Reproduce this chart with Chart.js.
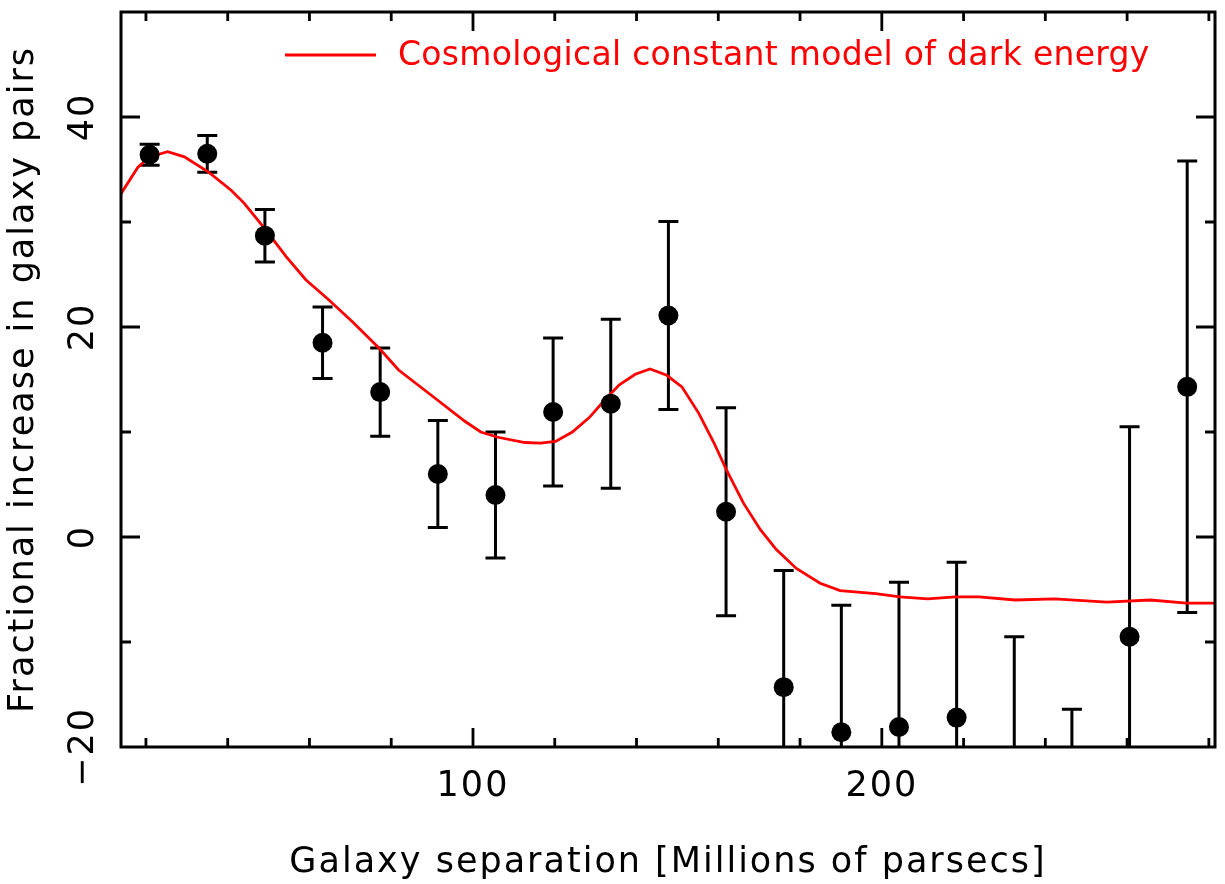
<!DOCTYPE html>
<html>
<head>
<meta charset="utf-8">
<script src="https://cdn.jsdelivr.net/npm/chart.js@4.4.1/dist/chart.umd.min.js"></script>
<style>
html, body { margin: 0; padding: 0; background: #fff; }
</style>
</head>
<body>
<canvas id="pairChart" width="1225" height="884"></canvas>
<script>
// measured points: separation, fractional increase, 1-sigma error
const sepValues = [20.9, 35.0, 49.1, 63.2, 77.3, 91.4, 105.5, 119.6, 133.7, 147.8,
    161.9, 176.0, 190.1, 204.2, 218.3, 232.4, 246.5, 260.6, 274.7];
const pairValues = [36.4, 36.5, 28.7, 18.5, 13.8, 6.0, 4.0, 11.9, 12.7, 21.1,
    2.4, -14.3, -18.6, -18.1, -17.2, -25.6, -33.9, -9.5, 14.3];
const pairErrors = [1.0, 1.75, 2.5, 3.4, 4.2, 5.1, 6.0, 7.05, 8.05, 8.95,
    9.9, 11.1, 12.1, 13.8, 14.8, 16.1, 17.5, 20.0, 21.5];

// cosmological constant model curve
const modelSep = [13.9, 18.0, 20.9, 25.3, 29.4, 35.5, 40.9, 44.0, 49.4, 54.3,
    59.1, 64.7, 70.5, 77.0, 81.8, 89.8, 98.1, 101.9, 106.1, 112.7,
    116.5, 120.2, 124.3, 128.5, 132.1, 135.8, 139.7, 143.3, 147.4, 151.1,
    155.2, 158.9, 162.0, 166.2, 170.3, 174.2, 179.1, 184.9, 189.8, 198.5,
    204.4, 211.2, 218.0, 223.8, 232.6, 242.3, 255.0, 265.7, 274.5, 281.5];
const modelValues = [32.7, 35.2, 36.2, 36.7, 36.2, 34.7, 33.0, 31.8, 29.2, 26.7,
    24.5, 22.6, 20.5, 18.0, 15.9, 13.5, 11.0, 10.0, 9.5, 9.0,
    8.95, 9.1, 10.0, 11.4, 13.0, 14.5, 15.5, 16.0, 15.4, 14.3,
    11.8, 9.0, 6.4, 3.2, 0.7, -1.2, -3.0, -4.4, -5.1, -5.4,
    -5.7, -5.9, -5.7, -5.7, -6.0, -5.9, -6.2, -6.0, -6.3, -6.3];

const legendLabel = 'Cosmological constant model of dark energy';

Chart.defaults.font.family = '"DejaVu Sans", sans-serif';
Chart.defaults.font.size = 35;
Chart.defaults.color = '#000';

const framePlugin = {
    id: 'framePlugin',
    beforeLayout(chart) {
        chart.ctx.letterSpacing = '2px';
    },
    beforeDraw(chart) {
        chart.ctx.letterSpacing = '2px';
    },
    beforeDatasetsDraw(chart) {
        const { ctx, chartArea: a, scales: { x, y } } = chart;
        ctx.save();
        ctx.beginPath();
        ctx.rect(a.left, a.top, a.right - a.left, a.bottom - a.top);
        ctx.clip();
        ctx.strokeStyle = '#000';
        ctx.lineWidth = 3;
        sepValues.forEach((s, i) => {
            const px = x.getPixelForValue(s);
            const top = y.getPixelForValue(pairValues[i] + pairErrors[i]);
            const bot = y.getPixelForValue(pairValues[i] - pairErrors[i]);
            ctx.beginPath();
            ctx.moveTo(px, top); ctx.lineTo(px, bot);
            ctx.moveTo(px - 10, top); ctx.lineTo(px + 10, top);
            ctx.moveTo(px - 10, bot); ctx.lineTo(px + 10, bot);
            ctx.stroke();
        });
        ctx.restore();
    },
    afterDraw(chart) {
        const { ctx, chartArea: a, scales: { x, y } } = chart;
        ctx.save();
        ctx.strokeStyle = '#000';
        ctx.lineWidth = 2.8;
        // inward ticks on all four sides
        ctx.beginPath();
        for (let v = Math.ceil(x.min / 20) * 20; v < x.max; v += 20) {
            const px = x.getPixelForValue(v);
            const len = v % 100 === 0 ? 19 : 9;
            ctx.moveTo(px, a.bottom); ctx.lineTo(px, a.bottom - len);
            ctx.moveTo(px, a.top); ctx.lineTo(px, a.top + len);
        }
        for (let v = Math.ceil(y.min / 10) * 10 + 10; v < y.max; v += 10) {
            const py = y.getPixelForValue(v);
            const len = v % 20 === 0 ? 19 : 10;
            ctx.moveTo(a.left, py); ctx.lineTo(a.left + len, py);
            ctx.moveTo(a.right, py); ctx.lineTo(a.right - len, py);
        }
        ctx.stroke();
        ctx.lineWidth = 3;
        ctx.strokeRect(a.left, a.top, a.right - a.left, a.bottom - a.top);

        // legend inside the plot
        ctx.strokeStyle = '#ff0000';
        ctx.lineWidth = 2.8;
        ctx.beginPath();
        ctx.moveTo(285, 55); ctx.lineTo(376, 55);
        ctx.stroke();
        ctx.fillStyle = '#ff0000';
        ctx.font = '33px "DejaVu Sans"';
        ctx.letterSpacing = '0.3px';
        ctx.textBaseline = 'alphabetic';
        ctx.fillText(legendLabel, 398, 65);
        ctx.restore();
    }
};

new Chart(document.getElementById('pairChart'), {
    type: 'scatter',
    data: {
        datasets: [{
            label: 'data',
            data: sepValues.map((s, i) => ({ x: s, y: pairValues[i] })),
            backgroundColor: '#000',
            borderColor: '#000',
            pointRadius: 10,
            pointBorderWidth: 0,
            order: 0
        }, {
            label: legendLabel,
            data: modelSep.map((s, i) => ({ x: s, y: modelValues[i] })),
            showLine: true,
            borderColor: '#ff0000',
            borderWidth: 2.8,
            pointRadius: 0,
            tension: 0,
            order: 1
        }]
    },
    options: {
        responsive: false,
        animation: false,
        layout: { padding: { top: 12, right: 4, left: 0, bottom: 0 } },
        plugins: { legend: { display: false }, tooltip: { enabled: false } },
        scales: {
            x: {
                type: 'linear',
                min: 13.9,
                max: 281.5,
                grid: { display: false },
                border: { display: false },
                ticks: { stepSize: 100, includeBounds: false, maxRotation: 0, padding: 11 },
                title: {
                    display: true,
                    text: 'Galaxy separation [Millions of parsecs]',
                    padding: { top: 0, bottom: 0 }
                },
                afterFit(s) { s.height = 137; s.paddingLeft = 0; s.paddingRight = 0; }
            },
            y: {
                min: -20,
                max: 50,
                grid: { display: false },
                border: { display: false },
                ticks: {
                    stepSize: 20,
                    includeBounds: false,
                    minRotation: 90,
                    maxRotation: 90,
                    crossAlign: 'center',
                    padding: -11,
                    callback: v => v < 0 ? '\u2212' + Math.abs(v) : String(v)
                },
                title: {
                    display: true,
                    text: 'Fractional increase in galaxy pairs',
                    padding: { top: 3, bottom: 0 }
                },
                afterFit(s) { s.width = 121; s.paddingTop = 0; s.paddingBottom = 0; }
            }
        }
    },
    plugins: [framePlugin]
});
</script>
</body>
</html>
